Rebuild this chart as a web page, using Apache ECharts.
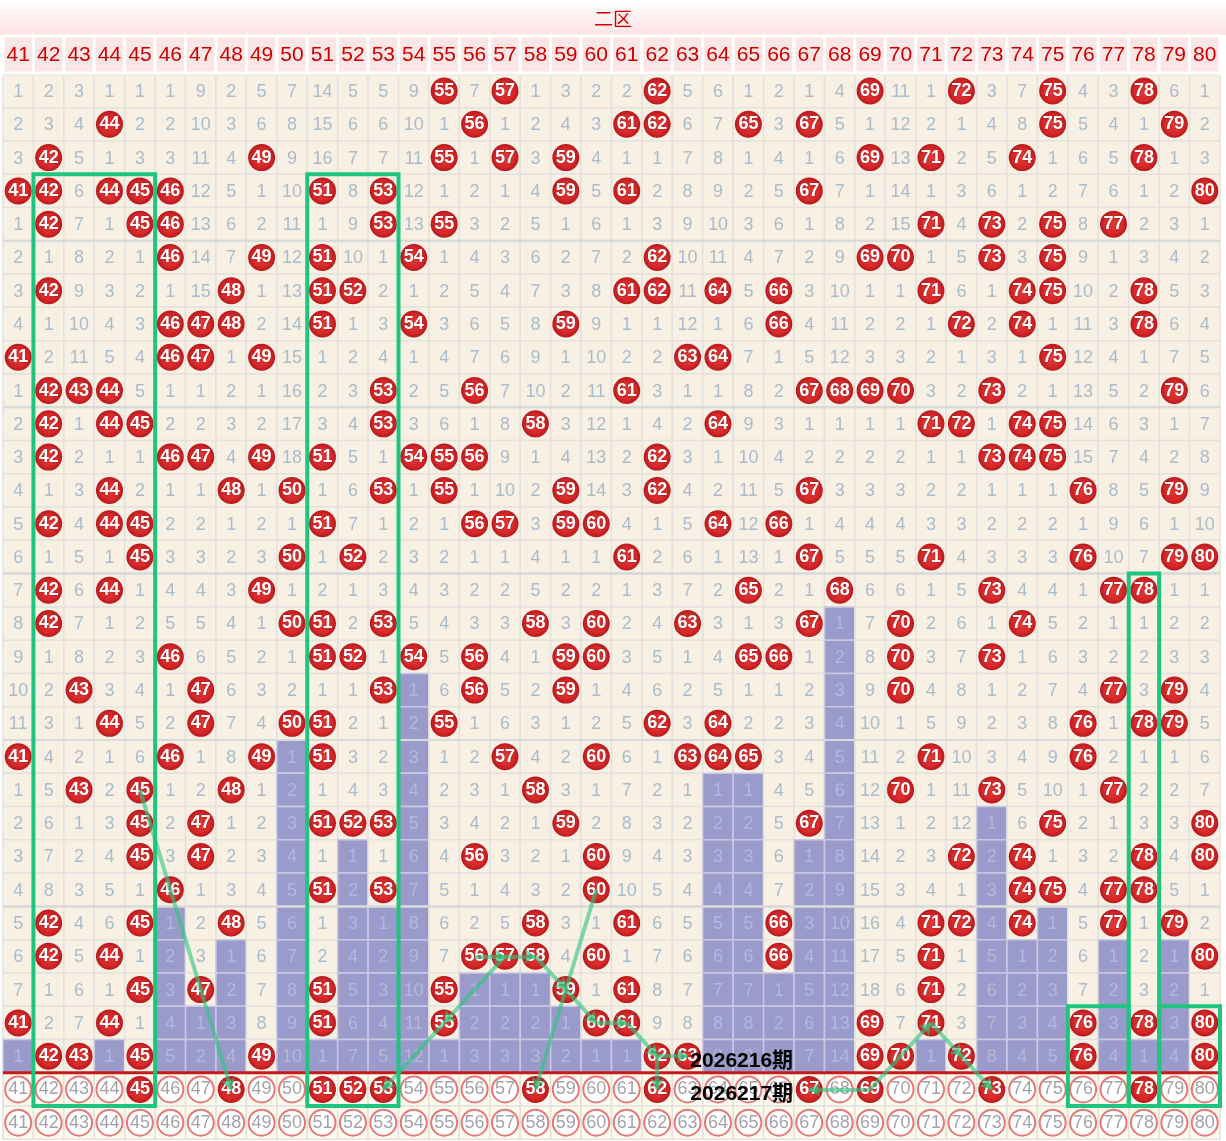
<!DOCTYPE html>
<html>
<head>
<meta charset="utf-8">
<title>二区走势</title>
<script src="https://cdn.jsdelivr.net/npm/echarts@6/dist/echarts.min.js"></script>
<style>
html,body{margin:0;padding:0;background:#fff;}
#chart{width:1226px;height:1141px;}
</style>
</head>
<body>
<div id="chart"></div>
<script>
// 号码 41-80
var nums=[41,42,43,44,45,46,47,48,49,50,51,52,53,54,55,56,57,58,59,60,
          61,62,63,64,65,66,67,68,69,70,71,72,73,74,75,76,77,78,79,80];

// 每期遗漏值，0 = 当期开出
var miss=[
 [1,2,3,1,1,1,9,2,5,7,14,5,5,9,0,7,0,1,3,2,2,0,5,6,1,2,1,4,0,11,1,0,3,7,0,4,3,0,6,1],
 [2,3,4,0,2,2,10,3,6,8,15,6,6,10,1,0,1,2,4,3,0,0,6,7,0,3,0,5,1,12,2,1,4,8,0,5,4,1,0,2],
 [3,0,5,1,3,3,11,4,0,9,16,7,7,11,0,1,0,3,0,4,1,1,7,8,1,4,1,6,0,13,0,2,5,0,1,6,5,0,1,3],
 [0,0,6,0,0,0,12,5,1,10,0,8,0,12,1,2,1,4,0,5,0,2,8,9,2,5,0,7,1,14,1,3,6,1,2,7,6,1,2,0],
 [1,0,7,1,0,0,13,6,2,11,1,9,0,13,0,3,2,5,1,6,1,3,9,10,3,6,1,8,2,15,0,4,0,2,0,8,0,2,3,1],
 [2,1,8,2,1,0,14,7,0,12,0,10,1,0,1,4,3,6,2,7,2,0,10,11,4,7,2,9,0,0,1,5,0,3,0,9,1,3,4,2],
 [3,0,9,3,2,1,15,0,1,13,0,0,2,1,2,5,4,7,3,8,0,0,11,0,5,0,3,10,1,1,0,6,1,0,0,10,2,0,5,3],
 [4,1,10,4,3,0,0,0,2,14,0,1,3,0,3,6,5,8,0,9,1,1,12,1,6,0,4,11,2,2,1,0,2,0,1,11,3,0,6,4],
 [0,2,11,5,4,0,0,1,0,15,1,2,4,1,4,7,6,9,1,10,2,2,0,0,7,1,5,12,3,3,2,1,3,1,0,12,4,1,7,5],
 [1,0,0,0,5,1,1,2,1,16,2,3,0,2,5,0,7,10,2,11,0,3,1,1,8,2,0,0,0,0,3,2,0,2,1,13,5,2,0,6],
 [2,0,1,0,0,2,2,3,2,17,3,4,0,3,6,1,8,0,3,12,1,4,2,0,9,3,1,1,1,1,0,0,1,0,0,14,6,3,1,7],
 [3,0,2,1,1,0,0,4,0,18,0,5,1,0,0,0,9,1,4,13,2,0,3,1,10,4,2,2,2,2,1,1,0,0,0,15,7,4,2,8],
 [4,1,3,0,2,1,1,0,1,0,1,6,0,1,0,1,10,2,0,14,3,0,4,2,11,5,0,3,3,3,2,2,1,1,1,0,8,5,0,9],
 [5,0,4,0,0,2,2,1,2,1,0,7,1,2,1,0,0,3,0,0,4,1,5,0,12,0,1,4,4,4,3,3,2,2,2,1,9,6,1,10],
 [6,1,5,1,0,3,3,2,3,0,1,0,2,3,2,1,1,4,1,1,0,2,6,1,13,1,0,5,5,5,0,4,3,3,3,0,10,7,0,0],
 [7,0,6,0,1,4,4,3,0,1,2,1,3,4,3,2,2,5,2,2,1,3,7,2,0,2,1,0,6,6,1,5,0,4,4,1,0,0,1,1],
 [8,0,7,1,2,5,5,4,1,0,0,2,0,5,4,3,3,0,3,0,2,4,0,3,1,3,0,1,7,0,2,6,1,0,5,2,1,1,2,2],
 [9,1,8,2,3,0,6,5,2,1,0,0,1,0,5,0,4,1,0,0,3,5,1,4,0,0,1,2,8,0,3,7,0,1,6,3,2,2,3,3],
 [10,2,0,3,4,1,0,6,3,2,1,1,0,1,6,0,5,2,0,1,4,6,2,5,1,1,2,3,9,0,4,8,1,2,7,4,0,3,0,4],
 [11,3,1,0,5,2,0,7,4,0,0,2,1,2,0,1,6,3,1,2,5,0,3,0,2,2,3,4,10,1,5,9,2,3,8,0,1,0,0,5],
 [0,4,2,1,6,0,1,8,0,1,0,3,2,3,1,2,0,4,2,0,6,1,0,0,0,3,4,5,11,2,0,10,3,4,9,0,2,1,1,6],
 [1,5,0,2,0,1,2,0,1,2,1,4,3,4,2,3,1,0,3,1,7,2,1,1,1,4,5,6,12,0,1,11,0,5,10,1,0,2,2,7],
 [2,6,1,3,0,2,0,1,2,3,0,0,0,5,3,4,2,1,0,2,8,3,2,2,2,5,0,7,13,1,2,12,1,6,0,2,1,3,3,0],
 [3,7,2,4,0,3,0,2,3,4,1,1,1,6,4,0,3,2,1,0,9,4,3,3,3,6,1,8,14,2,3,0,2,0,1,3,2,0,4,0],
 [4,8,3,5,1,0,1,3,4,5,0,2,0,7,5,1,4,3,2,0,10,5,4,4,4,7,2,9,15,3,4,1,3,0,0,4,0,0,5,1],
 [5,0,4,6,0,1,2,0,5,6,1,3,1,8,6,2,5,0,3,1,0,6,5,5,5,0,3,10,16,4,0,0,4,0,1,5,0,1,0,2],
 [6,0,5,0,1,2,3,1,6,7,2,4,2,9,7,0,0,0,4,0,1,7,6,6,6,0,4,11,17,5,0,1,5,1,2,6,1,2,1,0],
 [7,1,6,1,0,3,0,2,7,8,0,5,3,10,0,1,1,1,0,1,0,8,7,7,7,1,5,12,18,6,0,2,6,2,3,7,2,3,2,1],
 [0,2,7,0,1,4,1,3,8,9,0,6,4,11,0,2,2,2,1,0,0,9,8,8,8,2,6,13,0,7,0,3,7,3,4,0,3,0,3,0],
 [1,0,0,1,0,5,2,4,0,10,1,7,5,12,1,3,3,3,2,1,1,0,0,9,9,3,7,14,0,0,1,0,8,4,5,0,4,1,4,0]
];

// 下一期开奖号码（第31行）
var nextDraw=[45,48,51,52,53,58,62,67,69,73,78];

// 期号标注 [文字, 起始号码, 行]
var periodTags=[['2026216期',63,30],['2026217期',63,31]];

// 绿色连线 [号码, 行]，按画线方向
var greenLines=[
 [[45,22],[48,31]],
 [[57,27],[55,29],[53,31]],
 [[56,27],[57,27],[58,27]],
 [[58,27],[59,28],[60,29],[61,29],[62,30],[63,30]],
 [[62,30],[62,31]],
 [[60,25],[58,31]],
 [[69,31],[67,31]],
 [[69,31],[71,29],[72,30],[73,31]]
];

// 绿框 [起号, 止号, 起行, 止行]
var greenBoxes=[[42,45,4,31],[51,53,4,31],[78,78,16,31],[76,77,29,31],[79,80,29,31]];

var FONT='"Liberation Sans","Noto Sans CJK SC",sans-serif';
var rowCount=miss.length;

// 每列最后一次开出的行，之后的格子画成紫色遗漏条
var lastHit=nums.map(function(n,c){
	var last=-1;
	miss.forEach(function(row,r){ if(row[c]===0) last=r; });
	return last;
});

var cellData=[], ballData=[], ringData=[];
miss.forEach(function(row,r){
	row.forEach(function(v,c){
		cellData.push([c,r,v,r>lastHit[c]?1:0]);
		if(v===0) ballData.push([c+0.5,r+0.5,nums[c]]);
	});
});
nums.forEach(function(n,c){
	cellData.push([c,rowCount,-1,2]);
	cellData.push([c,rowCount+1,-1,2]);
	if(nextDraw.indexOf(n)>=0) ballData.push([c+0.5,rowCount+0.5,n]);
	else ringData.push([c+0.5,rowCount+0.5,n]);
	ringData.push([c+0.5,rowCount+1.5,n]);
});

var sepData=[];
for(var k=5;k<40;k+=5) sepData.push(['v',k]);
for(var k2=5;k2<rowCount;k2+=5) sepData.push(['h',k2]);

// 连线拆成首尾带箭头的线段
var segData=[];
greenLines.forEach(function(line){
	for(var i=1;i<line.length;i++){
		segData.push([
			{coord:[line[i-1][0]-41+0.5,line[i-1][1]-0.5],symbol:'none'},
			{coord:[line[i][0]-41+0.5,line[i][1]-0.5],symbol:'arrow'}
		]);
	}
});

var ballColor={type:'radial',x:0.5,y:0.5,r:0.5,colorStops:[
	{offset:0,color:'#e33a36'},{offset:0.7,color:'#d7282a'},{offset:1,color:'#b5191c'}]};

function renderHead(params,api){
	var i=api.value(0);
	var p0=api.coord([i,0]), p1=api.coord([i+1,1]);
	return {type:'group',children:[
		{type:'rect',shape:{x:p0[0],y:p0[1],width:p1[0]-p0[0],height:p1[1]-p0[1]},
		 style:{fill:'#fbe6e6',stroke:'#fff',lineWidth:3}},
		{type:'text',style:{text:String(api.value(1)),x:(p0[0]+p1[0])/2,y:(p0[1]+p1[1])/2+1,
		 align:'center',verticalAlign:'middle',fill:'#cc0000',font:'21px '+FONT}}
	]};
}

function renderCell(params,api){
	var c=api.value(0), r=api.value(1), v=api.value(2), t=api.value(3);
	var p0=api.coord([c,r]), p1=api.coord([c+1,r+1]);
	var fill=t===1?'#9b9bcb':(t===2?'#fefbec':'#f9f0e4');
	var children=[{type:'rect',shape:{x:p0[0],y:p0[1],width:p1[0]-p0[0],height:p1[1]-p0[1]},
		style:{fill:fill,stroke:t===1?'#c9c9e2':'#e4e1de',lineWidth:1.5}}];
	if(v>0){
		children.push({type:'text',style:{text:String(v),x:(p0[0]+p1[0])/2,y:(p0[1]+p1[1])/2+1,
			align:'center',verticalAlign:'middle',fill:t===1?'#b4b8dd':'#a9bccc',font:'18px '+FONT}});
	}
	return {type:'group',children:children};
}

function renderSep(params,api){
	var kind=api.value(0), k=api.value(1);
	var a,b;
	if(kind==='v'){ a=api.coord([k,0]); b=api.coord([k,rowCount]); }
	else { a=api.coord([0,k]); b=api.coord([40,k]); }
	return {type:'line',shape:{x1:a[0],y1:a[1],x2:b[0],y2:b[1]},style:{stroke:'#d9d9d9',lineWidth:2}};
}

function renderDivider(params,api){
	var a=api.coord([0,rowCount]), b=api.coord([40,rowCount]);
	return {type:'line',shape:{x1:a[0],y1:a[1],x2:b[0],y2:b[1]},style:{stroke:'#c41a1a',lineWidth:3}};
}

function renderBox(params,api){
	var p0=api.coord([api.value(0)-41,api.value(2)-1]);
	var p1=api.coord([api.value(1)-40,api.value(3)]);
	return {type:'rect',shape:{x:p0[0],y:p0[1],width:p1[0]-p0[0],height:p1[1]-p0[1]},
		style:{fill:null,stroke:'#1ec57e',lineWidth:4}};
}

function renderTag(params,api){
	var p=api.coord([api.value(1)-41,api.value(2)-0.5]);
	return {type:'text',style:{text:api.value(0),x:p[0]+18,y:p[1]+5,align:'left',verticalAlign:'middle',
		fill:'#000',font:'bold 21px '+FONT}};
}

var myChart=echarts.init(document.getElementById('chart'));
var series=[
	{type:'custom',xAxisIndex:0,yAxisIndex:0,data:nums.map(function(n,i){return [i,n];}),renderItem:renderHead,silent:true},
	{type:'custom',xAxisIndex:1,yAxisIndex:1,data:cellData,renderItem:renderCell,silent:true,z:1},
	{type:'custom',xAxisIndex:1,yAxisIndex:1,data:sepData,renderItem:renderSep,silent:true,z:2},
	{type:'custom',xAxisIndex:1,yAxisIndex:1,data:[[0]],renderItem:renderDivider,silent:true,z:2},
	{type:'scatter',xAxisIndex:1,yAxisIndex:1,data:ringData,symbolSize:26,silent:true,z:3,
	 itemStyle:{color:'#fff',borderColor:'#e27a7a',borderWidth:2,opacity:1},
	 label:{show:true,position:'inside',formatter:function(p){return p.value[2];},color:'#a3a3ab',fontSize:18,fontFamily:FONT}},
	{type:'scatter',xAxisIndex:1,yAxisIndex:1,data:ballData,symbolSize:27,silent:true,z:3,
	 itemStyle:{color:ballColor,opacity:1},
	 label:{show:true,position:'inside',formatter:function(p){return p.value[2];},color:'#fff',fontSize:18,fontWeight:'bold',fontFamily:FONT,
	  textShadowColor:'rgba(90,0,0,0.5)',textShadowBlur:2}},
	{type:'line',xAxisIndex:1,yAxisIndex:1,data:[],silent:true,z:5,
	 markLine:{silent:true,animation:false,symbolSize:11,label:{show:false},
	  lineStyle:{color:'rgba(48,196,128,0.62)',width:4,type:'solid'},
	  emphasis:{disabled:true},data:segData}},
	{type:'custom',xAxisIndex:1,yAxisIndex:1,data:greenBoxes,renderItem:renderBox,silent:true,z:6},
	{type:'custom',xAxisIndex:1,yAxisIndex:1,data:periodTags,renderItem:renderTag,silent:true,z:7,
	 dimensions:[{name:'tag',type:'ordinal'},'num','row'],encode:{x:1,y:2}}
];

var option={
	animation:false,
	backgroundColor:'#fff',
	title:{text:'二区',left:'center',top:6,textStyle:{color:'#d40000',fontSize:19,fontWeight:'normal',fontFamily:FONT}},
	graphic:[{type:'rect',left:0,top:0,z:-1,shape:{width:1226,height:35},
		style:{fill:{type:'linear',x:0,y:0,x2:0,y2:1,colorStops:[{offset:0,color:'#ffffff'},{offset:1,color:'#fce3e3'}]}}}],
	grid:[
		{left:3,right:6,top:36,height:37},
		{left:3,right:6,top:74.4,height:33.28*(rowCount+2)}
	],
	xAxis:[
		{type:'value',gridIndex:0,min:0,max:40,show:false},
		{type:'value',gridIndex:1,min:0,max:40,show:false}
	],
	yAxis:[
		{type:'value',gridIndex:0,min:0,max:1,inverse:true,show:false},
		{type:'value',gridIndex:1,min:0,max:rowCount+2,inverse:true,show:false}
	],
	series:series
};
myChart.setOption(option);
</script>
</body>
</html>
